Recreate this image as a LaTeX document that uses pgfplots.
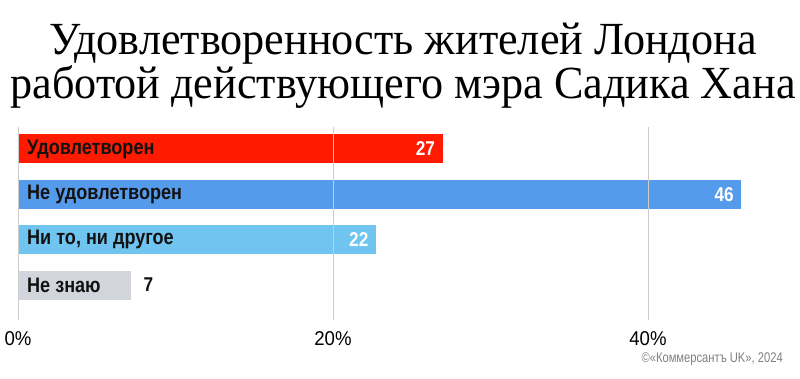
\documentclass[border=0pt]{standalone}
\usepackage{fontspec}
\setmainfont{Liberation Sans}
\newfontfamily\titlefont[FakeStretch=0.96]{Liberation Serif}
\newfontfamily\cond[FakeStretch=0.93]{Liberation Sans}
\newfontfamily\condf[FakeStretch=0.80]{Liberation Sans}
\newfontfamily\condb[FakeStretch=0.86,UprightFont={* Bold}]{Liberation Sans}
\usepackage{pgfplots}
\pgfplotsset{compat=1.18}
\definecolor{cred}{HTML}{FF1A00}
\definecolor{cblue}{HTML}{559BEB}
\definecolor{clight}{HTML}{70C4F0}
\definecolor{cgray}{HTML}{D3D5DC}
\definecolor{cgrid}{HTML}{CCCCCC}
\begin{document}
\begin{tikzpicture}
\path[use as bounding box] (0pt,0pt) rectangle (800pt,379pt);
\node[font=\titlefont\fontsize{46}{44}\selectfont, align=center, inner sep=0pt] at (403pt,313pt) {Удовлетворенность жителей Лондона\\работой действующего мэра Садика Хана};
\begin{axis}[at={(18pt,59pt)}, anchor=south west, scale only axis,
  width=771.75pt, height=193pt,
  xmin=0, xmax=49, ymin=-0.77, ymax=3.485,
  axis line style={draw=none}, axis on top,
  xtick={0,20,40}, xticklabels={0\%,20\%,40\%}, ytick=\empty,
  xmajorgrids, grid style={cgrid, line width=1pt},
  major tick length=0pt,
  xbar, bar width=29pt, bar shift=0pt,
  xticklabel style={font=\cond\fontsize{20}{20}\selectfont, yshift=-8pt},
  clip=false]
\addplot[fill=cred, draw=none] coordinates {(27,3)};
\addplot[fill=cblue, draw=none] coordinates {(45.9,2)};
\addplot[fill=clight, draw=none] coordinates {(22.7,1)};
\addplot[fill=cgray, draw=none] coordinates {(7.2,0)};
\begin{scope}[every node/.style={font=\condb\fontsize{21}{21}\selectfont, inner sep=0pt, text=black!93}]
\node[anchor=west] at (axis cs:0,3) [xshift=9pt] {Удовлетворен};
\node[anchor=west] at (axis cs:0,2) [xshift=9pt] {Не удовлетворен};
\node[anchor=west] at (axis cs:0,1) [xshift=9pt] {Ни то, ни другое};
\node[anchor=west] at (axis cs:0,0) [xshift=9pt] {Не знаю};
\end{scope}
\begin{scope}[every node/.style={font=\condb\fontsize{20}{20}\selectfont, inner sep=0pt}]
\node[anchor=east, text=white] at (axis cs:27,3) [xshift=-8pt] {27};
\node[anchor=east, text=white] at (axis cs:45.9,2) [xshift=-7pt] {46};
\node[anchor=east, text=white] at (axis cs:22.7,1) [xshift=-7pt] {22};
\node[anchor=west, text=black!93] at (axis cs:7.2,0) [xshift=12pt] {7};
\end{scope}
\end{axis}
\node[anchor=base east, text=gray, font=\condf\fontsize{14}{14}\selectfont, inner sep=0pt] at (783pt,16pt) {©«Коммерсантъ UK», 2024};
\end{tikzpicture}
\end{document}
